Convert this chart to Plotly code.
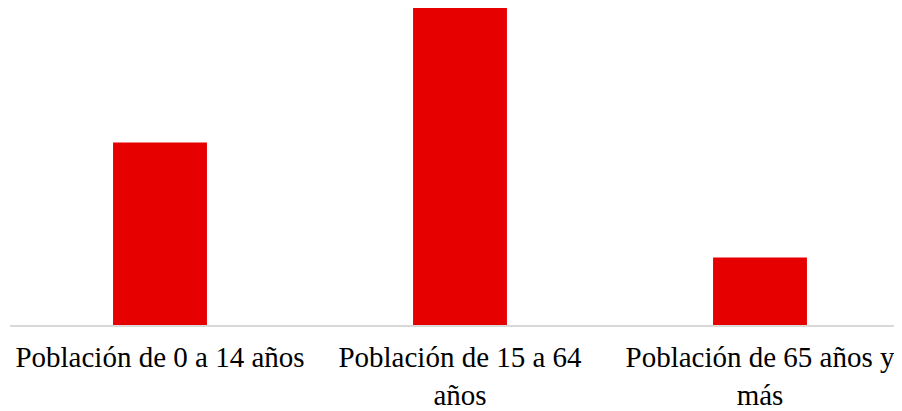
import plotly.graph_objects as go

categories = ["Población de 0 a 14 años", "Población de 15 a 64<br>años", "Población de 65 años y<br>más"]
values = [32.2, 55.9, 11.9]

fig = go.Figure(go.Bar(x=categories, y=values, marker=dict(color="#E60000", line=dict(width=0)), width=0.313))

fig.update_layout(
    width=902, height=411,
    margin=dict(l=2, r=0, t=0, b=94),
    paper_bgcolor="white", plot_bgcolor="white",
    showlegend=False,
    font=dict(family="Liberation Serif", size=29, color="#000000"),
)
fig.update_xaxes(range=[-0.5, 2.5], showline=True, linecolor="#d9d9d9", linewidth=2,
                 ticks="", showgrid=False, tickfont=dict(size=29), ticklabelstandoff=5)
fig.update_yaxes(range=[0, 55.9], visible=False, showgrid=False, zeroline=False)

fig.write_html("out.html")
